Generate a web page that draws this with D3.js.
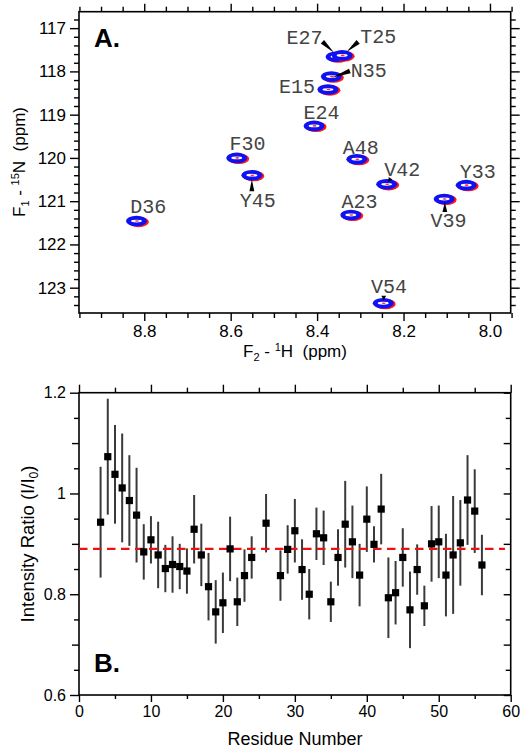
<!DOCTYPE html>
<html><head><meta charset="utf-8">
<script src="https://cdn.jsdelivr.net/npm/d3@7/dist/d3.min.js"></script>
<style>body{margin:0;background:#fff}svg{display:block}</style>
</head><body>
<svg id="c" width="525" height="750"></svg>
<script>
// ---------- Panel A data (2D HSQC peaks) ----------
const peakNames = ["D36","F30","Y45","E27","T25","N35","E15","E24","A48","V42","Y33","V39","A23","V54"];
const peakH = [8.818,8.586,8.551,8.356,8.342,8.367,8.375,8.407,8.308,8.239,8.055,8.106,8.322,8.247];
const peakN = [121.46,120.00,120.40,117.66,117.63,118.12,118.42,119.26,120.03,120.61,120.63,120.95,121.32,123.36];
const hTicks = [8.8,8.6,8.4,8.2,8.0];
const nTicks = [117,118,119,120,121,122,123];

// ---------- Panel B data (intensity ratios) ----------
const residues = [3,4,5,6,7,8,9,10,11,12,13,14,15,16,17,18,19,20,21,22,23,24,26,28,29,30,31,32,33,34,35,36,37,38,39,40,41,42,43,44,45,46,47,48,49,50,51,52,53,54,55,56];
const ratio = [0.943,1.073,1.038,1.011,0.986,0.957,0.884,0.908,0.878,0.851,0.859,0.855,0.846,0.929,0.878,0.815,0.765,0.783,0.890,0.785,0.837,0.873,0.941,0.837,0.889,0.926,0.849,0.800,0.920,0.912,0.785,0.873,0.939,0.904,0.838,0.949,0.899,0.969,0.793,0.803,0.873,0.769,0.849,0.777,0.900,0.904,0.838,0.878,0.902,0.987,0.965,0.858];
const ratioErr = [0.110,0.115,0.098,0.108,0.090,0.094,0.055,0.047,0.066,0.047,0.056,0.045,0.045,0.068,0.062,0.067,0.063,0.060,0.064,0.048,0.052,0.042,0.058,0.050,0.048,0.063,0.060,0.050,0.052,0.054,0.040,0.056,0.086,0.072,0.062,0.065,0.036,0.070,0.080,0.063,0.058,0.076,0.050,0.040,0.075,0.072,0.082,0.117,0.085,0.089,0.083,0.060];
const meanRatio = 0.89;
const resTicks = [0,10,20,30,40,50,60];
const ratioTicks = [0.6,0.8,1,1.2];

// ---------- layout (label placement relative to peak, px) ----------
const labelLayout = {
  D36:{dx:11.8,dy:-7.7}, F30:{dx:10.8,dy:-7.7},
  Y45:{dx:6,dy:32,w:[0,16,0,4]},
  E27:{dx:-31.5,dy:-12.5,w:[-13.7,-15,-2,-4]},
  T25:{dx:36,dy:-12,w:[16,-13.5,4.3,-3.3]},
  N35:{dx:37.5,dy:0.3,w:[18.5,-5.5,1,1]},
  E15:{dx:-31,dy:3.8}, E24:{dx:7.5,dy:-7},
  A48:{dx:3.8,dy:-5.3}, V42:{dx:15.6,dy:-8.3,w:[4,-6,1.5,-2.5]},
  Y33:{dx:11.5,dy:-7.3}, V39:{dx:4.4,dy:27.7,w:[0.7,13,0.7,3]},
  A23:{dx:8.8,dy:-7}, V54:{dx:5.7,dy:-10.3,w:[0.5,-7.5,0.5,-3]}
};

const svg = d3.select("#c");
const sans = "'Liberation Sans', Arial, Helvetica, sans-serif";
const mono = "'Courier New', 'Liberation Mono', monospace";

function styleAxis(g, fs){
  g.select(".domain").remove();
  g.selectAll(".tick line").attr("stroke","#000").attr("stroke-width",1.4);
  g.selectAll(".tick text").attr("font-family",sans).attr("font-size",fs).attr("fill","#000");
}

// ================= Panel A =================
const xA = d3.scaleLinear().domain([8.951,7.952]).range([79,510.7]);
const yA = d3.scaleLinear().domain([116.62,123.585]).range([11.7,313]);
const hMinor = d3.range(7.95,8.951,0.05).map(v=>+v.toFixed(2)).filter(v=>!hTicks.some(t=>Math.abs(t-v)<1e-6));
const nMinor = d3.range(116.8,123.59,0.2).map(v=>+v.toFixed(1)).filter(v=>!nTicks.some(t=>Math.abs(t-v)<1e-6));

const A = svg.append("g");
[["B",d3.axisBottom,313],["T",d3.axisTop,11.7]].forEach(([k,ax,y])=>{
  A.append("g").attr("transform",`translate(0,${y})`).call(ax(xA).tickValues(hTicks).tickSize(8).tickPadding(4).tickFormat(k==="B"?d3.format(".1f"):"")).call(g=>styleAxis(g,17));
  A.append("g").attr("transform",`translate(0,${y})`).call(ax(xA).tickValues(hMinor).tickSize(5).tickFormat("")).call(g=>styleAxis(g,17));
});
[["L",d3.axisLeft,79],["R",d3.axisRight,510.7]].forEach(([k,ax,x])=>{
  A.append("g").attr("transform",`translate(${x},0)`).call(ax(yA).tickValues(nTicks).tickSize(9).tickPadding(4).tickFormat(k==="L"?d3.format("d"):"")).call(g=>styleAxis(g,17));
  A.append("g").attr("transform",`translate(${x},0)`).call(ax(yA).tickValues(nMinor).tickSize(5).tickFormat("")).call(g=>styleAxis(g,17));
});
A.append("rect").attr("x",79).attr("y",11.7).attr("width",431.7).attr("height",301.3)
  .attr("fill","none").attr("stroke","#000").attr("stroke-width",1.6);

// peaks
const peaks = peakNames.map((n,i)=>({name:n,h:peakH[i],n15:peakN[i]}));
const pg = A.append("g");
peaks.forEach(p=>{
  const cx = xA(p.h), cy = yA(p.n15);
  pg.append("ellipse").attr("cx",cx+2).attr("cy",cy+0.8).attr("rx",10.5).attr("ry",5.3).attr("fill","#ff1a1a");
  pg.append("ellipse").attr("cx",cx).attr("cy",cy).attr("rx",10.5).attr("ry",5.3).attr("fill","#1010f0");
  pg.append("ellipse").attr("cx",cx).attr("cy",cy).attr("rx",5.5).attr("ry",1.4).attr("fill","#fff");
  pg.append("ellipse").attr("cx",cx+0.5).attr("cy",cy).attr("rx",2).attr("ry",0.8).attr("fill","#e33");
});
peaks.forEach(p=>{
  const cx = xA(p.h), cy = yA(p.n15), L = labelLayout[p.name];
  if(L.w){
    const [bx,by,tx,ty] = L.w;
    const x1=cx+bx,y1=cy+by,x2=cx+tx,y2=cy+ty;
    const dx=x2-x1,dy=y2-y1,len=Math.hypot(dx,dy),nx=-dy/len*2.4,ny=dx/len*2.4;
    pg.append("path").attr("d",`M${x1+nx},${y1+ny}L${x1-nx},${y1-ny}L${x2},${y2}Z`).attr("fill","#000");
  }
  pg.append("text").attr("x",cx+L.dx).attr("y",cy+L.dy).attr("text-anchor","middle")
    .attr("font-family",mono).attr("font-size",20).attr("fill","#444").text(p.name);
});
A.append("text").attr("x",94).attr("y",47).attr("font-family",sans).attr("font-weight","bold")
  .attr("font-size",26).text("A.");

// axis titles A
const xt = A.append("text").attr("x",295).attr("y",357).attr("text-anchor","middle")
  .attr("font-family",sans).attr("font-size",17).attr("xml:space","preserve");
xt.append("tspan").text("F");
xt.append("tspan").attr("font-size",11).attr("dy",4).text("2");
xt.append("tspan").attr("dy",-4).text(" - ");
xt.append("tspan").attr("font-size",11).attr("dy",-6).text("1");
xt.append("tspan").attr("dy",6).text("H  (ppm)");

const yt = A.append("text").attr("transform","translate(25,162) rotate(-90)").attr("text-anchor","middle")
  .attr("font-family",sans).attr("font-size",17).attr("xml:space","preserve");
yt.append("tspan").text("F");
yt.append("tspan").attr("font-size",11).attr("dy",4).text("1");
yt.append("tspan").attr("dy",-4).text(" - ");
yt.append("tspan").attr("font-size",11).attr("dy",-6).text("15");
yt.append("tspan").attr("dy",6).text("N  (ppm)");

// ================= Panel B =================
const xB = d3.scaleLinear().domain([0,60]).range([79,510.7]);
const yB = d3.scaleLinear().domain([0.6,1.2]).range([695,392.7]);
const resMinor = d3.range(5,60,10);
const ratioMid = [0.7,0.9,1.1];
const ratioMinor = d3.range(0.65,1.2,0.05).map(v=>+v.toFixed(2)).filter(v=>!ratioTicks.concat(ratioMid).some(t=>Math.abs(t-v)<1e-6));

const B = svg.append("g");
B.append("g").attr("transform","translate(0,695)").call(d3.axisBottom(xB).tickValues(resTicks).tickSize(7).tickPadding(4).tickFormat(d3.format("d"))).call(g=>styleAxis(g,16));
B.append("g").attr("transform","translate(0,695)").call(d3.axisBottom(xB).tickValues(resMinor).tickSize(4).tickFormat("")).call(g=>styleAxis(g,16));
B.append("g").attr("transform","translate(0,392.7)").call(d3.axisTop(xB).tickValues(resTicks).tickSize(8).tickFormat("")).call(g=>styleAxis(g,16));
B.append("g").attr("transform","translate(0,392.7)").call(d3.axisTop(xB).tickValues(resMinor).tickSize(5).tickFormat("")).call(g=>styleAxis(g,16));
B.append("g").attr("transform","translate(79,0)").call(d3.axisLeft(yB).tickValues(ratioTicks).tickSize(9).tickPadding(4).tickFormat(d=>d===1?"1":d3.format(".1f")(d))).call(g=>styleAxis(g,16));
B.append("g").attr("transform","translate(79,0)").call(d3.axisLeft(yB).tickValues(ratioMid).tickSize(7).tickFormat("")).call(g=>styleAxis(g,16));
B.append("g").attr("transform","translate(79,0)").call(d3.axisLeft(yB).tickValues(ratioMinor).tickSize(5).tickFormat("")).call(g=>styleAxis(g,16));
B.append("g").attr("transform","translate(510.7,0)").call(d3.axisLeft(yB).tickValues(ratioTicks.concat(ratioMid)).tickSize(7).tickFormat("")).call(g=>styleAxis(g,16));
B.append("g").attr("transform","translate(510.7,0)").call(d3.axisLeft(yB).tickValues(ratioMinor).tickSize(5).tickFormat("")).call(g=>styleAxis(g,16));
B.append("rect").attr("x",79).attr("y",392.7).attr("width",431.7).attr("height",302.3)
  .attr("fill","none").attr("stroke","#000").attr("stroke-width",1.6);

const pts = residues.map((r,i)=>({r,v:ratio[i],e:ratioErr[i]}));
B.append("g").selectAll("line").data(pts).join("line")
  .attr("x1",d=>xB(d.r)).attr("x2",d=>xB(d.r))
  .attr("y1",d=>yB(d.v+d.e)).attr("y2",d=>yB(d.v-d.e))
  .attr("stroke","#3a3a3a").attr("stroke-width",2);
B.append("line").attr("x1",xB(0)).attr("x2",xB(59.2)).attr("y1",yB(meanRatio)).attr("y2",yB(meanRatio))
  .attr("stroke","#ee1111").attr("stroke-width",2.2).attr("stroke-dasharray","8.5,5.5");
B.append("g").selectAll("rect").data(pts).join("rect")
  .attr("x",d=>xB(d.r)-3.6).attr("y",d=>yB(d.v)-3.6).attr("width",7.2).attr("height",7.2).attr("fill","#000");

B.append("text").attr("x",94).attr("y",672).attr("font-family",sans).attr("font-weight","bold")
  .attr("font-size",26).text("B.");
B.append("text").attr("x",295).attr("y",745).attr("text-anchor","middle")
  .attr("font-family",sans).attr("font-size",18).text("Residue Number");
const by = B.append("text").attr("transform","translate(34,544) rotate(-90)").attr("text-anchor","middle")
  .attr("font-family",sans).attr("font-size",18.5);
by.append("tspan").text("Intensity Ratio (I/I");
by.append("tspan").attr("font-size",12).attr("dy",4).text("0");
by.append("tspan").attr("dy",-4).text(")");
</script>
</body></html>
